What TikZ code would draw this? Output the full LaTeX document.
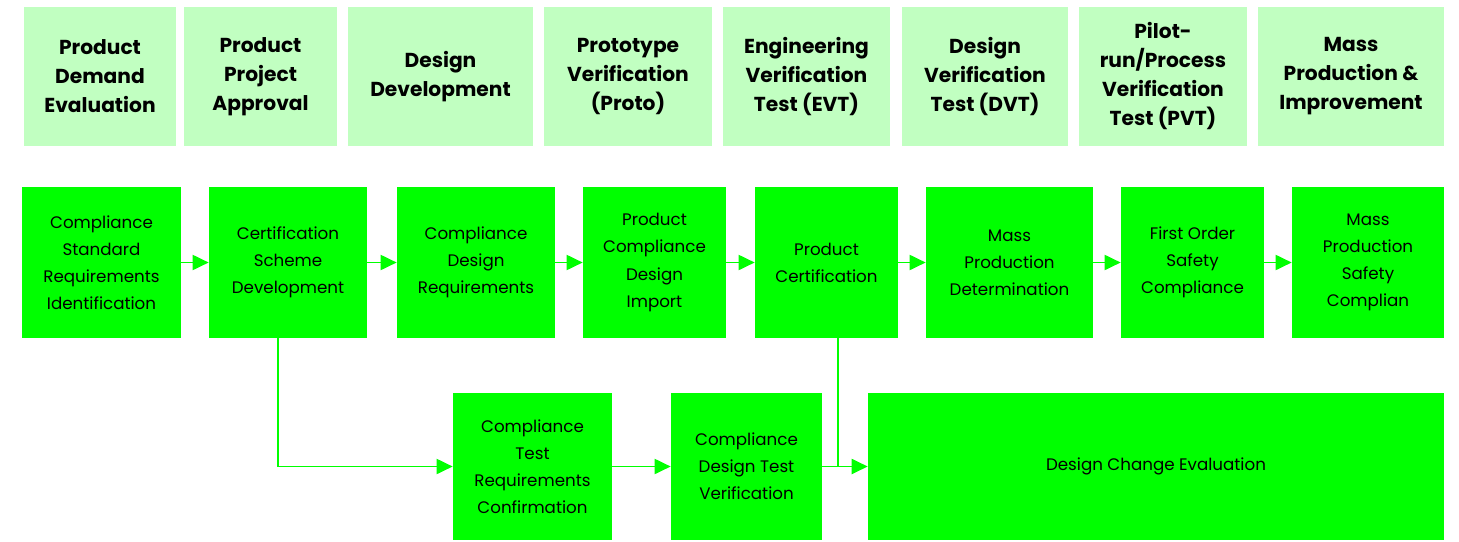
\documentclass[tikz,border=0pt]{standalone}
\usepackage{fontspec}
\setmainfont{Poppins}
\usetikzlibrary{arrows.meta, positioning}
\definecolor{PhaseGreen}{HTML}{C1FFC1}
\definecolor{TaskGreen}{HTML}{00FF00}

\begin{document}
\begin{tikzpicture}[x=0.02cm, y=-0.02cm,
    phase/.style={fill=PhaseGreen, align=center, inner sep=0pt, minimum height=2.78cm, font=\bfseries\fontsize{11.5}{16.5}\selectfont},
    task/.style={fill=TaskGreen, align=center, inner sep=0pt, font=\fontsize{9.5}{15.4}\selectfont},
    flow/.style={-{Triangle[length=0.32cm, width=0.3cm]}, draw=TaskGreen, line width=1.1pt}]
    \useasboundingbox (0,0) rectangle (1459,541);

    % Phase headers
    \node[phase, minimum width=3.04cm] (ph1) at (100,76.5) {Product\\Demand\\Evaluation};
    \node[phase, minimum width=3.06cm] (ph2) at (260.5,76.5) {Product\\Project\\Approval};
    \node[phase, minimum width=3.70cm] (ph3) at (440.5,76.5) {Design\\Development};
    \node[phase, minimum width=3.36cm] (ph4) at (628,76.5) {Prototype\\Verification\\(Proto)};
    \node[phase, minimum width=3.34cm] (ph5) at (806.5,76.5) {Engineering\\Verification\\Test (EVT)};
    \node[phase, minimum width=3.32cm] (ph6) at (985,76.5) {Design\\Verification\\Test (DVT)};
    \node[phase, minimum width=3.36cm] (ph7) at (1163,76.5) {Pilot-\\run/Process\\Verification\\Test (PVT)};
    \node[phase, minimum width=3.72cm] (ph8) at (1351,76.5) {Mass\\Production \&\\Improvement};

    % Compliance tasks, main row
    \node[task, minimum width=3.18cm, minimum height=3.02cm] (req) at (101.5,262.5) {Compliance\\Standard\\Requirements\\Identification};
    \node[task, minimum width=3.16cm, minimum height=3.02cm] (scheme) at (288,262.5) {Certification\\Scheme\\Development};
    \node[task, minimum width=3.16cm, minimum height=3.02cm] (dreq) at (476,262.5) {Compliance\\Design\\Requirements};
    \node[task, minimum width=2.86cm, minimum height=3.02cm] (import) at (654.5,262.5) {Product\\Compliance\\Design\\Import};
    \node[task, minimum width=2.86cm, minimum height=3.02cm] (cert) at (826.5,262.5) {Product\\Certification};
    \node[task, minimum width=3.34cm, minimum height=3.02cm] (mass) at (1009.5,262.5) {Mass\\Production\\Determination};
    \node[task, minimum width=2.86cm, minimum height=3.02cm] (first) at (1192.5,262.5) {First Order\\Safety\\Compliance};
    \node[task, minimum width=3.04cm, minimum height=3.02cm] (safety) at (1368,262.5) {Mass\\Production\\Safety\\Complian};

    % Test and change row
    \node[task, minimum width=3.18cm, minimum height=2.94cm] (treq) at (532.5,466.5) {Compliance\\Test\\Requirements\\Confirmation};
    \node[task, minimum width=3.02cm, minimum height=2.94cm] (tver) at (746.5,466.5) {Compliance\\Design Test\\Verification};
    \node[task, minimum width=11.52cm, minimum height=2.94cm] (change) at (1156,466.5) {Design Change Evaluation};

    % Flow
    \draw[flow] (req) -- (scheme);
    \draw[flow] (scheme) -- (dreq);
    \draw[flow] (dreq) -- (import);
    \draw[flow] (import) -- (cert);
    \draw[flow] (cert) -- (mass);
    \draw[flow] (mass) -- (first);
    \draw[flow] (first) -- (safety);

    \draw[flow] ([xshift=-0.2cm]scheme.south) |- (treq.west);
    \draw[flow] (treq) -- (tver);
    \draw[flow] (tver) -- (change);
    \draw[draw=TaskGreen, line width=1.1pt] ([xshift=0.23cm]cert.south) -- ([xshift=0.23cm]cert.south |- change.west);
\end{tikzpicture}
\end{document}
